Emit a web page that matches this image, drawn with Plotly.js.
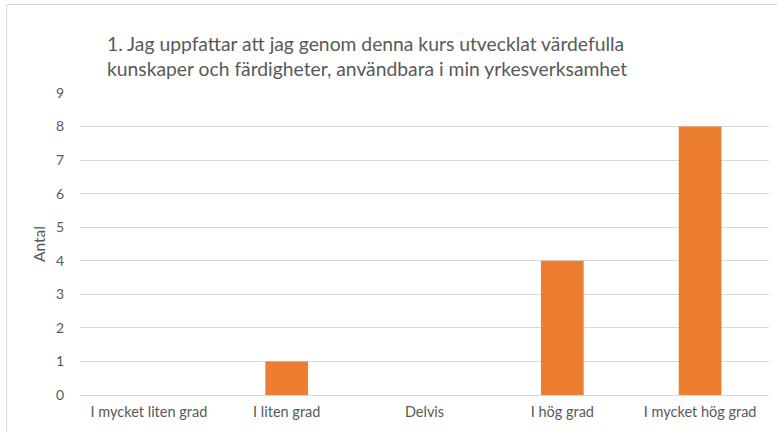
<!DOCTYPE html>
<html>
<head>
<meta charset="utf-8">
<script src="https://cdn.plot.ly/plotly-3.0.1.min.js"></script>
<style>
html,body{margin:0;padding:0;background:#fff;}
#chart{width:777px;height:432px;}
</style>
</head>
<body>
<div id="chart"></div>
<script>
const categories = ["I mycket liten grad", "I liten grad", "Delvis", "I hög grad", "I mycket hög grad"];
const antal = [0, 1, 0, 4, 8];
const yTicks = [0, 1, 2, 3, 4, 5, 6, 7, 8, 9];
const titleText = "1. Jag uppfattar att jag genom denna kurs utvecklat värdefulla<br>kunskaper och färdigheter, användbara i min yrkesverksamhet";
const yTitle = "Antal";

const FONT = "Lato, 'Open Sans', sans-serif";

Plotly.newPlot("chart", [{
  type: "bar",
  x: categories,
  y: antal,
  marker: {color: "#ED7D31"},
  hoverinfo: "x+y"
}], {
  width: 777,
  height: 432,
  margin: {l: 80, r: 8, t: 93, b: 37},
  paper_bgcolor: "#ffffff",
  plot_bgcolor: "#ffffff",
  bargap: 0.69,
  showlegend: false,
  font: {family: FONT, color: "#595959"},
  title: {
    text: titleText,
    x: 107/777, xanchor: "left", xref: "container",
    y: 1 - 51/432, yanchor: "top", yref: "container",
    align: "left",
    font: {family: FONT, size: 19.3, color: "#595959"}
  },
  xaxis: {
    type: "category",
    tickfont: {family: FONT, size: 14.5, color: "#595959"},
    showgrid: false,
    zeroline: false,
    showline: false,
    ticks: "",
    ticklen: 0,
    ticklabelstandoff: 6
  },
  yaxis: {
    range: [0, 9],
    tickvals: yTicks,
    ticktext: yTicks.map(String),
    tickfont: {family: FONT, size: 14, color: "#595959"},
    showgrid: true,
    gridcolor: "#d9d9d9",
    gridwidth: 1,
    zeroline: true,
    zerolinecolor: "#d9d9d9",
    zerolinewidth: 1,
    showline: false,
    ticks: "",
    ticklabelstandoff: 15,
    fixedrange: true,
    title: {text: yTitle, font: {family: FONT, size: 15.5, color: "#595959"}, standoff: 6}
  },
  shapes: [{
    type: "rect", xref: "paper", yref: "paper",
    x0: (6.5-80)/689, x1: 1.2, y0: -0.5, y1: (395-4.5)/302,
    line: {color: "#d9d9d9", width: 1},
    fillcolor: "rgba(0,0,0,0)", layer: "below"
  }]
}, {displayModeBar: false, staticPlot: true});
</script>
</body>
</html>
